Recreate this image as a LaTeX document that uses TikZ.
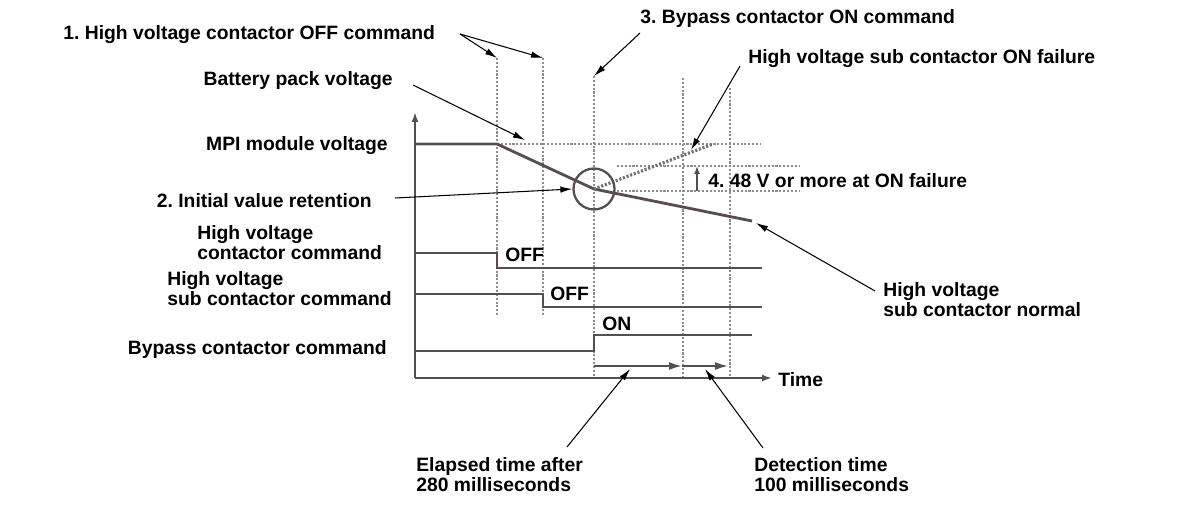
\documentclass[tikz,border=0pt]{standalone}
\usepackage{fontspec}
\setmainfont{Liberation Sans}
\usepackage{xcolor}
\usepackage{tikz}
\usetikzlibrary{positioning,arrows.meta}
\definecolor{sigcol}{RGB}{88,78,78}
\definecolor{gridcol}{RGB}{140,140,140}
\frenchspacing

\begin{document}
\begin{tikzpicture}[x=0.02cm,y=-0.02cm,
  lbl/.style={inner sep=0pt,yshift=-0.03cm,font=\fontsize{11}{11.4}\selectfont\bfseries},
  sig/.style={draw=sigcol,line width=1.6pt},
  gridline/.style={draw=gridcol,line width=1.2pt,densely dotted},
  pointer/.style={draw=black,line width=0.6pt,-{Latex[length=2.4mm,width=1.3mm]}},
  span/.style={draw=sigcol,line width=1pt,-{Latex[length=2.6mm,width=1.6mm]}},
  axis/.style={draw=sigcol,line width=1.2pt,-{Latex[length=2mm,width=1.4mm]}}
]
\useasboundingbox (0,0) rectangle (1200,517);

% axes
\coordinate (O) at (415,378);
\coordinate (yend) at (415,112);
\coordinate (xend) at (772,378);
\draw[axis] (O) -- (yend);
\draw[axis] (O) -- (xend);

% event lines
\foreach \n/\x/\top/\bot in {t1/497/58/315,t2/543/58/315,t3/594/76/377,t4/683/78/377,t5/730/88/377}{
\coordinate (\n a) at (\x,\top);
\coordinate (\n b) at (\x,\bot);
\draw[gridline] (\n a) -- (\n b);
}

% voltage levels
\coordinate (v0) at (415,144);
\coordinate (v1) at (497,144);
\coordinate (v2) at (594,189);
\coordinate (v3) at (752,221);
\coordinate (vf) at (713,144);
\draw[gridline] (v1) -- (760,144);
\draw[gridline] (617,166) -- (799,166);
\draw[gridline] (617,191) -- (799,191);
\draw[sig] (v0) -- (v1) -- (v2) -- (v3);
\draw[gridline,line width=1.8pt,draw=gridcol!80!black] (v2) -- (vf);
\node[draw=sigcol,line width=1.3pt,circle,minimum size=0.82cm] (ring) at (v2) {};
\coordinate (d0) at (697,191);
\coordinate (d1) at (697,166);
\draw[draw=sigcol,line width=0.8pt,-{Latex[length=1.6mm,width=1.2mm]}] (d0) -- (d1);

% commands
\draw[sig] (415,253) -- (497,253) -- (497,268) -- (762,268);
\draw[sig] (415,294) -- (543,294) -- (543,307) -- (762,307);
\draw[sig] (415,351) -- (594,351) -- (594,335) -- (752,335);

% time spans
\coordinate (s0) at (594,366);
\coordinate (s1) at (682,366);
\coordinate (s2) at (728,366);
\path
(s0) edge[span] (s1)
(s1) edge[span] (s2);

% labels
\node[lbl,anchor=west] (cmd1) at (63,33) {1. High voltage contactor OFF command};
\node[lbl,anchor=west] (cmd3) at (640,17) {3. Bypass contactor ON command};
\node[lbl,anchor=west] (fail) at (748,57) {High voltage sub contactor ON failure};
\node[lbl,anchor=east] (batt) at (393,79) {Battery pack voltage};
\node[lbl,anchor=east] (mpi) at (388,144) {MPI module voltage};
\node[lbl,anchor=east] (init) at (372,199) {2. Initial value retention};
\node[lbl,anchor=west,align=left] (hvc) at (197,241) {High voltage\\contactor command};
\node[lbl,anchor=west,align=left] (hvs) at (167,287) {High voltage\\sub contactor command};
\node[lbl,anchor=east] (byp) at (387,348) {Bypass contactor command};
\node[lbl,anchor=west] (time) at (778,378) {Time};
\node[lbl,anchor=west] (off1) at (505,253) {OFF};
\node[lbl,anchor=west] (off2) at (550,292) {OFF};
\node[lbl,anchor=west] (on) at (602,322) {ON};
\node[lbl,anchor=west] (v48) at (708,179) {4. 48 V or more at ON failure};
\node[lbl,anchor=west,align=left] (norm) at (883,298) {High voltage\\sub contactor normal};
\node[lbl,anchor=west,align=left] (elap) at (416,473) {Elapsed time after\\280 milliseconds};
\node[lbl,anchor=west,align=left] (det) at (754,473) {Detection time\\100 milliseconds};

% pointers
\coordinate (p1) at (460,34);
\coordinate (p3) at (640,33);
\coordinate (pf) at (740,66);
\coordinate (pfe) at (691,150);
\coordinate (pb) at (413,85);
\coordinate (pbe) at (525,140);
\coordinate (pi) at (395,198);
\coordinate (pn) at (875,291);
\coordinate (pne) at (756,223);
\coordinate (pe) at (567,447);
\coordinate (pee) at (630,369);
\coordinate (pd) at (763,448);
\coordinate (pde) at (705,369);
\path
(p1) edge[pointer] (t1a)
(p1) edge[pointer] (t2a)
(p3) edge[pointer] (t3a)
(pf) edge[pointer] (pfe)
(pb) edge[pointer] (pbe)
(pi) edge[pointer] (ring.west)
(pn) edge[pointer] (pne)
(pe) edge[pointer] (pee)
(pd) edge[pointer] (pde);

\end{tikzpicture}
\end{document}
